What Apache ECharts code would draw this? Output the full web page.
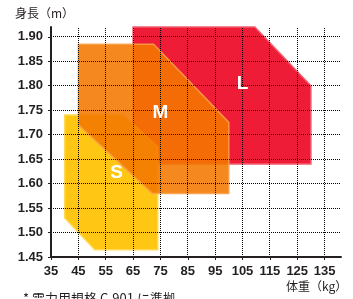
<!DOCTYPE html>
<html>
<head>
<meta charset="utf-8">
<script src="https://cdn.jsdelivr.net/npm/echarts@6/dist/echarts.min.js"></script>
<style>html,body{margin:0;padding:0;background:#fff}#chart{width:353px;height:299px}</style>
</head>
<body>
<div id="chart"></div>
<script>
// weight (kg) on x, height (m) on y
var weightTicks = [35, 45, 55, 65, 75, 85, 95, 105, 115, 125, 135];
var heightTicks = [1.45, 1.50, 1.55, 1.60, 1.65, 1.70, 1.75, 1.80, 1.85, 1.90];
var xRange = [35, 141];
var yRange = [1.45, 1.92];

var sizeNames = ['L', 'S', 'M'];
var shapeL = [[65, 1.92], [109.5, 1.92], [130, 1.80], [130, 1.64], [65, 1.64]];
var shapeS = [[40, 1.74], [61.5, 1.74], [74, 1.675], [74, 1.465], [51, 1.465], [40, 1.53]];
var shapeM = [[45, 1.885], [72.5, 1.885], [100, 1.725], [100, 1.58], [72, 1.58], [45, 1.72]];
var labelPos = [[105, 1.805], [59, 1.622], [75, 1.745]];

var shapes = [shapeL, shapeS, shapeM];
var fills = ['#ee1c37', '#ffc713', 'rgb(244,119,0)'];
var strokes = ['#f25c6e', '#ffd955', '#f9a04a'];
var alphas = [1, 1, 0.88];

var ink = '#231f20';
var dots = { stroke: '#000', lineWidth: 1, lineDash: [1, 1] };
var chart = echarts.init(document.getElementById('chart'));

function crisp(v) { return Math.round(v - 0.5) + 0.5; }

// dotted grid drawn over the shapes
function gridLine(isVertical) {
    return function (params, api) {
        var v = isVertical ? weightTicks[params.dataIndex] : heightTicks[params.dataIndex];
        var a = isVertical ? api.coord([v, yRange[0]]) : api.coord([xRange[0], v]);
        var b = isVertical ? api.coord([v, yRange[1]]) : api.coord([xRange[1], v]);
        var shape = isVertical
            ? { x1: crisp(a[0]), y1: a[1], x2: crisp(a[0]), y2: b[1] }
            : { x1: a[0], y1: crisp(a[1]), x2: b[0], y2: crisp(a[1]) };
        return { type: 'line', shape: shape, style: dots };
    };
}

var option = {
    animation: false,
    grid: { left: 51, right: 12, top: 27, bottom: 42 },
    xAxis: {
        type: 'value',
        min: xRange[0],
        max: xRange[1],
        z: 5,
        axisLine: { onZero: false, lineStyle: { color: ink, width: 2 } },
        axisTick: { show: true, length: 3, customValues: weightTicks, lineStyle: { color: ink } },
        axisLabel: {
            customValues: weightTicks, color: ink, fontWeight: 'bold', fontSize: 13,
            fontFamily: 'Liberation Sans', margin: 8
        },
        splitLine: { show: false }
    },
    yAxis: {
        type: 'value',
        min: yRange[0],
        max: yRange[1],
        z: 5,
        axisLine: { show: true, onZero: false, lineStyle: { color: ink, width: 2 } },
        axisTick: { show: true, length: 3, customValues: heightTicks, lineStyle: { color: ink } },
        axisLabel: {
            customValues: heightTicks, color: ink, fontWeight: 'bold', fontSize: 13,
            fontFamily: 'Liberation Sans', margin: 8,
            formatter: function (v) { return v.toFixed(2); }
        },
        splitLine: { show: false }
    },
    series: [
        {
            type: 'custom',
            z: 1,
            data: [0, 1, 2],
            renderItem: function (params, api) {
                var i = params.dataIndex;
                var pts = shapes[i].map(function (p) { return api.coord(p); });
                return {
                    type: 'polygon',
                    shape: { points: pts },
                    style: { fill: fills[i], stroke: strokes[i], lineWidth: 1.5, opacity: alphas[i] }
                };
            }
        },
        { type: 'custom', z: 3, data: weightTicks, renderItem: gridLine(true) },
        { type: 'custom', z: 3, data: heightTicks, renderItem: gridLine(false) },
        {
            type: 'custom',
            z: 10,
            data: [0, 1, 2],
            renderItem: function (params, api) {
                var i = params.dataIndex;
                var c = api.coord(labelPos[i]);
                return {
                    type: 'text',
                    x: c[0], y: c[1],
                    style: {
                        text: sizeNames[i], fill: '#fff', font: 'bold 19px "Liberation Sans"',
                        align: 'center', verticalAlign: 'middle'
                    }
                };
            }
        }
    ],
    graphic: [
        { type: 'text', left: 15, top: 7, style: { text: '身長（m）', fill: ink, font: '12px "Noto Sans CJK JP"' } },
        { type: 'text', left: 286, top: 280, style: { text: '体重（kg）', fill: ink, font: '12px "Noto Sans CJK JP"' } },
        { type: 'text', left: 23, top: 292, style: { text: '* 電力用規格 C-901 に準拠', fill: ink, font: '13px "Noto Sans CJK JP"' } }
    ]
};

chart.setOption(option);
</script>
</body>
</html>
